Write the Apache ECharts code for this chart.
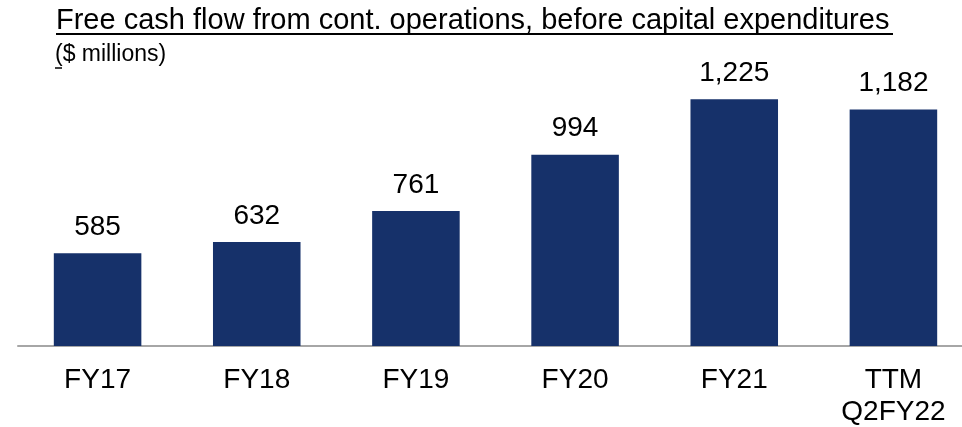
<!DOCTYPE html>
<html>
<head>
<meta charset="utf-8">
<script src="https://cdn.jsdelivr.net/npm/echarts@6/dist/echarts.min.js"></script>
<style>
  html, body { margin: 0; padding: 0; background: #fff; }
  #chart { width: 962px; height: 427px; }
</style>
</head>
<body>
<div id="chart"></div>
<script>
// categories and values ($ millions)
const categories = ["FY17", "FY18", "FY19", "FY20", "FY21", "TTM\nQ2FY22"];
const cashFlow = [585, 632, 761, 994, 1225, 1182];

const titleText = "Free cash flow from cont. operations, before capital expenditures";
const subtitleText = "($ millions)";

const chart = echarts.init(document.getElementById("chart"));

const font = "Liberation Sans, Arial, sans-serif";

const options = {
  animation: false,
  grid: {
    left: 18,
    width: 955,
    top: 57,
    bottom: 81,
    outerBoundsMode: "none",
    containLabel: false,
  },
  xAxis: {
    type: "category",
    data: categories,
    axisLine: { lineStyle: { color: "#a6a6a6", width: 2 } },
    axisTick: { show: false },
    axisLabel: {
      color: "#000",
      fontSize: 28,
      fontFamily: font,
      lineHeight: 32,
      margin: 18,
      interval: 0,
    },
  },
  yAxis: {
    type: "value",
    min: 200,
    max: 1400,
    show: false,
  },
  series: [
    {
      type: "bar",
      data: cashFlow,
      barWidth: "55%",
      itemStyle: { color: "#16316a" },
      label: {
        show: true,
        position: "top",
        distance: 12,
        color: "#000",
        fontSize: 28,
        fontFamily: font,
        formatter: (p) => p.value.toLocaleString("en-US"),
      },
    },
  ],
  graphic: [
    {
      type: "text",
      left: 56,
      top: 6,
      style: { text: titleText, font: "29px " + font, fill: "#000" },
    },
    {
      type: "line",
      shape: { x1: 56, y1: 34, x2: 893, y2: 34 },
      style: { stroke: "#000", lineWidth: 2 },
    },
    {
      type: "text",
      left: 55,
      top: 43,
      style: { text: subtitleText, font: "23px " + font, fill: "#000" },
    },
    {
      type: "line",
      shape: { x1: 55, y1: 68, x2: 62, y2: 68 },
      style: { stroke: "#000", lineWidth: 1.5 },
    },
  ],
};

chart.setOption(options);
</script>
</body>
</html>
